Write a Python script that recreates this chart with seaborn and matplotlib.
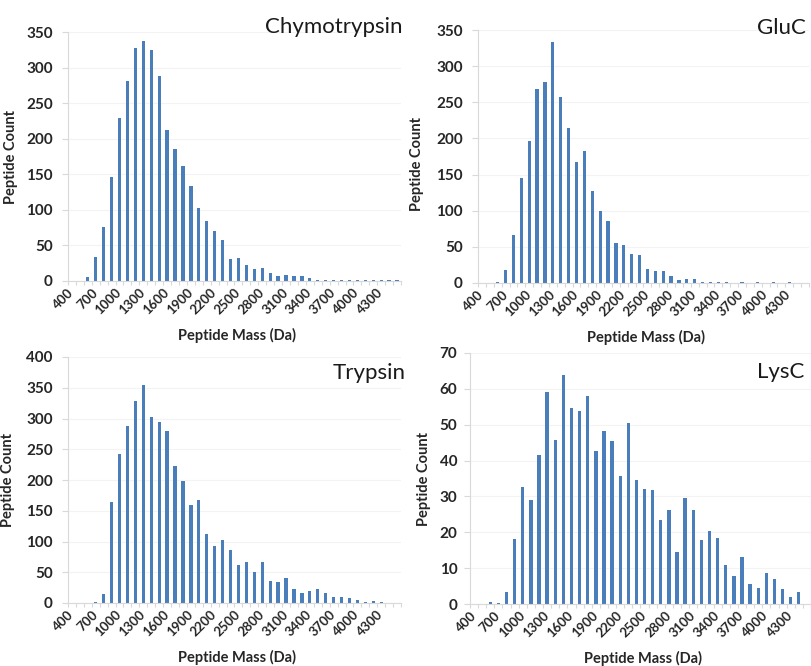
import matplotlib
matplotlib.use("Agg")
import matplotlib.pyplot as plt
import seaborn as sns
import pandas as pd
import numpy as np

# Mass bins (Da), one category per 100 Da
mass_bins = ["400", "500", "600", "700", "800", "900", "1000", "1100", "1200", "1300",
             "1400", "1500", "1600", "1700", "1800", "1900", "2000", "2100", "2200", "2300",
             "2400", "2500", "2600", "2700", "2800", "2900", "3000", "3100", "3200", "3300",
             "3400", "3500", "3600", "3700", "3800", "3900", "4000", "4100", "4200", "4300",
             "4400", "4500"]

chymotrypsin = [0, 0, 5, 34, 76, 146, 229, 281, 328, 338,
                325, 288, 212, 185, 161, 134, 103, 85, 70, 58,
                31, 33, 23, 17, 18, 11, 7, 8, 7, 7,
                4, 1, 2, 1, 2, 2, 1, 1, 1, 1,
                1, 1]

gluc = [0, 0, 2, 18, 66, 145, 196, 269, 278, 334,
        257, 215, 167, 182, 127, 100, 86, 55, 52, 40,
        39, 19, 16, 17, 10, 4, 5, 5, 2, 2,
        1, 1, 0, 1, 0, 1, 0, 1, 0, 1,
        0, 0]

trypsin = [0, 0, 0, 2, 14, 165, 243, 288, 329, 354,
           303, 294, 279, 222, 198, 160, 168, 113, 93, 102,
           86, 61, 67, 51, 66, 36, 34, 41, 22, 17,
           19, 23, 16, 10, 10, 8, 5, 2, 4, 1,
           0, 0]

lysc = [0, 0, 0.5, 0.3, 3.3, 18, 32.5, 29, 41.5, 59,
        45.7, 64, 54.6, 53.7, 58, 42.8, 48.3, 45.4, 35.8, 50.4,
        34.5, 32.2, 31.8, 23.4, 26.1, 14.4, 29.5, 26.1, 17.8, 20.4,
        18.4, 10.8, 7.7, 13.2, 5.5, 4.5, 8.7, 7.1, 4.2, 2.0,
        3.4, 0]

enzymes = ["Chymotrypsin", "GluC", "Trypsin", "LysC"]
counts = [chymotrypsin, gluc, trypsin, lysc]
y_max = [350, 350, 400, 70]
y_step = [50, 50, 50, 10]

sns.set_theme(style="white")
plt.rcParams["font.family"] = ["Lato", "DejaVu Sans"]

BAR = "#4A7EBB"
AXIS = "#D9D9D9"
TEXT = "#262626"

W, H = 812, 666
fig = plt.figure(figsize=(W / 100, H / 100), dpi=100)

# panel boxes in pixels: left, top, right, bottom
boxes = [(68, 32, 401, 281), (478, 30, 809, 283), (68, 357, 401, 603), (470, 353, 811, 604)]
ylabel_x = [-0.15, -0.163, -0.159, -0.114]
ylabel_y = [0.5, 0.47, 0.5, 0.5]
ytick_pad = [7, 7, 7, 5]
# title anchors in pixels: right edge, vertical centre
title_pos = [(403, 27), (806, 28), (406, 373), (804, 372)]

n = len(mass_bins)
for i, name in enumerate(enzymes):
    l, t, r, b = boxes[i]
    ax = fig.add_axes([l / W, 1 - b / H, (r - l) / W, (b - t) / H])
    df = pd.DataFrame({"mass": mass_bins, "count": counts[i]})
    sns.barplot(data=df, x="mass", y="count", order=mass_bins, color=BAR,
                saturation=1, width=0.41, linewidth=0, ax=ax)
    ax.set_xlim(-0.5, n - 0.5)
    ax.set_ylim(0, y_max[i])
    ax.set_yticks(np.arange(0, y_max[i] + 1, y_step[i]))
    ax.set_yticklabels([str(v) for v in np.arange(0, y_max[i] + 1, y_step[i])],
                       fontsize=11, fontweight="bold", color=TEXT)
    ax.set_xticks(np.arange(0, n, 3))
    ax.set_xticklabels(mass_bins[::3], rotation=45, ha="right", va="center",
                       rotation_mode="anchor", fontsize=9.5, fontweight="bold", color=TEXT)
    ax.set_xticks(np.arange(-0.5, n, 1), minor=True)
    ax.tick_params(axis="x", which="major", length=0, pad=7)
    ax.tick_params(axis="x", which="minor", length=3, width=0.8, color=AXIS, bottom=True)
    ax.tick_params(axis="y", which="major", length=4, width=0.8, color=AXIS,
                   left=True, pad=ytick_pad[i])
    for side in ("top", "right"):
        ax.spines[side].set_visible(False)
    for side in ("left", "bottom"):
        ax.spines[side].set_color(AXIS)
        ax.spines[side].set_linewidth(0.8)
    ax.yaxis.grid(True, color="#F3F3F3", linewidth=0.8)
    ax.set_axisbelow(True)

    ax.set_ylabel("Peptide Count", fontsize=10.5, fontweight="bold", color=TEXT)
    ax.yaxis.set_label_coords(ylabel_x[i], ylabel_y[i])
    ax.set_xlabel("Peptide Mass (Da)", fontsize=10.5, fontweight="bold", color=TEXT)
    ax.xaxis.set_label_coords(0.508, -47 / (b - t))

    tx, ty = title_pos[i]
    fig.text(tx / W, 1 - ty / H, name, ha="right", va="center",
             fontsize=16, color="#1A1A1A")

fig.savefig("out.png", dpi=100)
